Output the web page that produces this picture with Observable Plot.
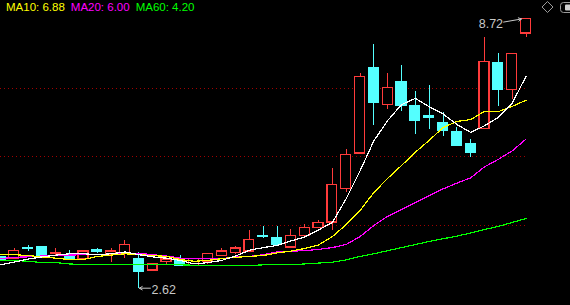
<!DOCTYPE html>
<html>
<head>
<meta charset="utf-8">
<script src="https://cdn.jsdelivr.net/npm/d3@7"></script>
<script src="https://cdn.jsdelivr.net/npm/@observablehq/plot@0.6"></script>
<style>
html, body { margin: 0; padding: 0; background: #000; }
#wrap { position: relative; width: 570px; height: 305px; overflow: hidden; background: #000; }
#legend { position: absolute; left: 6px; top: 0px; font: 11.5px "Liberation Sans", Arial, sans-serif; white-space: nowrap; line-height: 14px; }
#legend span { margin-right: 6px; }
#icons { position: absolute; left: 0; top: 0; }
</style>
</head>
<body>
<div id="wrap">
  <div id="chart"></div>
  <div id="legend"></div>
  <svg id="icons" width="570" height="20">
    <path d="M547.5,1.5 L553,7 L547.5,12.5 L542,7 Z" fill="none" stroke="#9a9a9a" stroke-width="1"/>
    <rect x="560.5" y="2.5" width="16" height="10" rx="3" fill="none" stroke="#9a9a9a" stroke-width="1"/>
    <rect x="565" y="4.5" width="9" height="6" rx="1" fill="#d0d0d0"/>
  </svg>
</div>
<script>
// ---- data ----
const opens  = [3.32,3.29,3.52,3.54,3.39,3.36,3.29,3.49,3.38,3.41,3.29,3.02,3.22,3.29,3.13,3.21,3.35,3.42,3.45,3.79,3.75,3.54,3.81,3.99,4.11,4.86,5.67,7.60,6.77,7.30,6.74,6.51,6.35,6.15,5.88,6.22,7.71,7.11,8.39];
const highs  = [3.34,3.52,3.59,3.57,3.52,3.47,3.47,3.52,3.52,3.70,3.43,3.17,3.34,3.36,3.30,3.41,3.52,3.57,3.93,4.02,4.02,3.95,4.06,4.15,5.33,5.76,7.48,8.14,7.49,7.67,7.08,7.21,6.59,6.26,5.99,8.31,7.94,7.93,8.72];
const lows   = [3.22,3.27,3.45,3.33,3.34,3.28,3.27,3.41,3.20,3.29,2.62,3.01,3.16,3.13,3.12,3.15,3.34,3.38,3.44,3.74,3.59,3.52,3.80,3.98,3.93,4.78,5.66,6.31,6.67,6.63,6.10,6.22,6.06,5.82,5.59,6.22,6.74,6.90,8.30];
const closes = [3.25,3.47,3.51,3.34,3.42,3.29,3.45,3.44,3.45,3.59,3.00,3.16,3.27,3.13,3.29,3.40,3.45,3.52,3.72,3.78,3.61,3.81,3.99,4.10,4.95,5.63,7.41,6.83,7.16,6.74,6.42,6.47,6.18,5.85,5.68,7.75,7.12,7.93,8.72];

const ma5  = [3.15,3.21,3.28,3.33,3.37,3.40,3.40,3.38,3.40,3.44,3.38,3.33,3.30,3.25,3.17,3.20,3.25,3.35,3.48,3.54,3.59,3.69,3.78,3.94,4.11,4.65,5.28,5.96,6.42,6.78,6.92,6.73,6.57,6.33,6.15,6.30,6.49,6.81,7.42];
const ma10 = [3.38,3.38,3.36,3.33,3.30,3.27,3.27,3.34,3.37,3.40,3.38,3.36,3.34,3.27,3.23,3.25,3.29,3.32,3.34,3.36,3.42,3.46,3.52,3.60,3.79,4.06,4.38,4.79,5.11,5.40,5.70,5.97,6.26,6.40,6.44,6.63,6.62,6.74,6.88];
const ma20 = [3.29,3.32,3.33,3.35,3.36,3.37,3.38,3.38,3.40,3.41,3.41,3.38,3.35,3.30,3.29,3.29,3.29,3.33,3.34,3.38,3.44,3.46,3.47,3.50,3.54,3.61,3.79,4.04,4.25,4.40,4.56,4.72,4.87,5.00,5.12,5.37,5.54,5.73,6.00];
const ma60 = [3.25,3.25,3.23,3.20,3.20,3.17,3.15,3.15,3.15,3.15,3.15,3.15,3.15,3.15,3.14,3.14,3.14,3.14,3.13,3.15,3.15,3.15,3.17,3.19,3.21,3.26,3.34,3.40,3.47,3.54,3.61,3.68,3.74,3.80,3.87,3.95,4.02,4.11,4.20];

const gridLevels = [4.052, 5.604, 7.156];
const legendNames  = ["MA10", "MA20", "MA60"];
const legendSeries = [ma10, ma20, ma60];
const legendColors = ["#ffff00", "#ff00ff", "#00ff00"];

// ---- colours ----
const UP = "#ff3b3b", DOWN = "#54ffff", LABEL = "#c8c8c8";

const candles = opens.map((o, i) => ({
  i, open: o, high: highs[i], low: lows[i], close: closes[i], up: closes[i] >= o
}));
const hi = candles.reduce((a, b) => (b.high > a.high ? b : a));
const lo = candles.reduce((a, b) => (b.low < a.low ? b : a));
const fmt = d3.format(".2f");

const chart = Plot.plot({
  width: 570,
  height: 305,
  marginTop: 0, marginBottom: 0, marginLeft: 0, marginRight: 44.5,
  x: { type: "linear", domain: [0, candles.length - 1], axis: null },
  y: { domain: [2.2279, 9.1392], axis: null },
  style: { background: "#000", color: LABEL, fontFamily: "Liberation Sans, Arial, sans-serif" },
  marks: [
    Plot.ruleY(gridLevels, { stroke: "#a00000", strokeDasharray: "1,3", shapeRendering: "crispEdges" }),
    Plot.ruleX(candles, { x: "i", y1: "low", y2: "high", stroke: d => d.up ? UP : DOWN, shapeRendering: "crispEdges" }),
    Plot.rect(candles, {
      x1: d => d.i - 0.36, x2: d => d.i + 0.36,
      y1: "open", y2: "close",
      fill: d => d.up ? "#000" : DOWN,
      stroke: d => d.up ? UP : DOWN,
      strokeWidth: 1.2,
      shapeRendering: "crispEdges"
    }),
    Plot.lineY(ma60, { stroke: "#00ff00", strokeWidth: 1.2, shapeRendering: "crispEdges" }),
    Plot.lineY(ma20, { stroke: "#ff00ff", strokeWidth: 1.2, shapeRendering: "crispEdges" }),
    Plot.lineY(ma10, { stroke: "#ffff00", strokeWidth: 1.2, shapeRendering: "crispEdges" }),
    Plot.lineY(ma5,  { stroke: "#ffffff", strokeWidth: 1.2, shapeRendering: "crispEdges" }),
    // max annotation
    Plot.arrow([hi], {
      x1: d => d.i - 1.62, y1: d => d.high - 0.07, x2: d => d.i - 0.33, y2: "high",
      stroke: LABEL, strokeWidth: 1, headLength: 5
    }),
    Plot.text([hi], {
      x: d => d.i - 1.66, y: d => d.high - 0.07, text: d => fmt(d.high),
      textAnchor: "end", dy: 1.5, fill: LABEL, fontSize: 12.5
    }),
    // min annotation
    Plot.arrow([lo], {
      x1: d => d.i + 0.84, y1: "low", x2: d => d.i + 0.04, y2: "low",
      stroke: LABEL, strokeWidth: 1, headLength: 5
    }),
    Plot.text([lo], {
      x: d => d.i + 0.92, y: "low", text: d => fmt(d.low),
      textAnchor: "start", dy: 2, fill: LABEL, fontSize: 12.5
    })
  ]
});
document.getElementById("chart").appendChild(chart);

const legend = document.getElementById("legend");
legendNames.forEach((name, k) => {
  const s = document.createElement("span");
  const series = legendSeries[k];
  s.textContent = name + ": " + fmt(series[series.length - 1]);
  s.style.color = legendColors[k];
  legend.appendChild(s);
});
</script>
</body>
</html>
